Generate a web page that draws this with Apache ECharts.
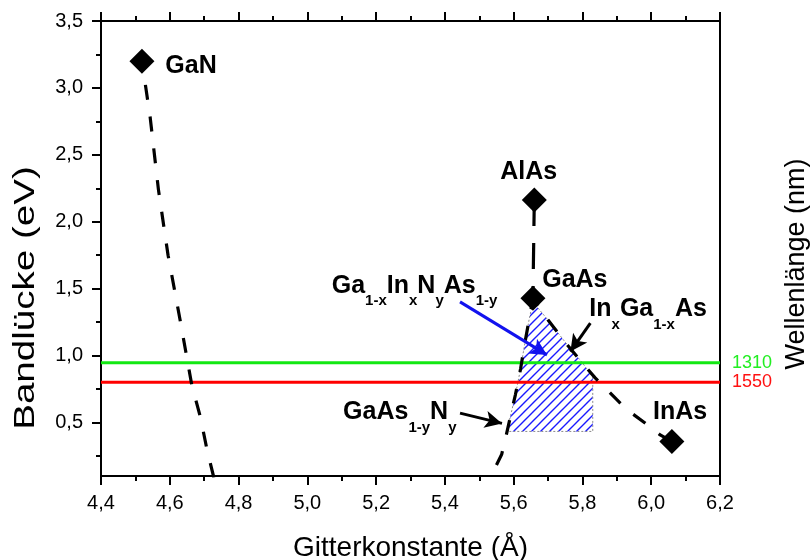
<!DOCTYPE html>
<html>
<head>
<meta charset="utf-8">
<script src="https://cdn.jsdelivr.net/npm/echarts@6/dist/echarts.min.js"></script>
<style>
  html, body { margin: 0; padding: 0; background: #fff; }
  #chart { width: 811px; height: 560px; }
</style>
</head>
<body>
<div id="chart"></div>
<script>
// Band gap versus lattice constant for GaN, AlAs, GaAs, InAs and their alloys

// binary compounds
const compounds   = ['GaN', 'AlAs', 'GaAs', 'InAs'];
const latticeA    = [4.519, 5.660, 5.656, 6.060];
const bandGapEv   = [3.200, 2.162, 1.428, 0.358];

// GaN -> GaAs bowing curve, nitrogen-rich branch (runs below the axis)
const ganBranchA  = [4.519, 4.543, 4.567, 4.595, 4.630, 4.664, 4.689, 4.708, 4.727, 4.745];
const ganBranchE  = [3.200, 2.780, 2.240, 1.750, 1.266, 0.780, 0.540, 0.300, 0.100, -0.060];

// GaAs(1-y)N(y) branch, arsenic-rich side
const gaasnA      = [5.656, 5.645, 5.633, 5.620, 5.605, 5.591, 5.578, 5.565, 5.543, 5.522];
const gaasnE      = [1.428, 1.270, 1.100, 0.900, 0.707, 0.550, 0.400, 0.260, 0.147, 0.000];

// AlAs - GaAs tie line
const alasGaasA   = [5.660, 5.656];
const alasGaasE   = [2.162, 1.428];

// In(x)Ga(1-x)As curve
const ingaasA     = [5.656, 5.700, 5.756, 5.800, 5.837, 5.900, 5.930, 5.980, 6.026, 6.060];
const ingaasE     = [1.428, 1.265, 1.080, 0.945, 0.833, 0.670, 0.594, 0.500, 0.407, 0.358];

// GaInNAs region (hatched)
const gainnasA    = [5.579, 5.591, 5.605, 5.620, 5.633, 5.645, 5.656, 5.700, 5.756, 5.800, 5.830, 5.830];
const gainnasE    = [0.433, 0.550, 0.707, 0.900, 1.100, 1.270, 1.400, 1.265, 1.080, 0.945, 0.840, 0.433];

// telecom wavelengths and their photon energies
const wavelengthNm = [1310, 1550];
const wavelengthEv = [0.946, 0.800];

// annotation arrows: GaInNAs, GaAsN, InGaAs
const arrowFromA = [5.444, 5.444, 5.823];
const arrowFromE = [1.401, 0.570, 1.242];
const arrowToA   = [5.697, 5.566, 5.765];
const arrowToE   = [1.005, 0.493, 1.030];

// text labels (rich text, subscripts in {s|...})
const labelTexts = [
  '{m|GaN}',
  '{m|AlAs}',
  '{m|GaAs}',
  '{m|In}{s|x}{m|Ga}{s|1-x}{m|As}',
  '{m|Ga}{s|1-x}{m|In}{s|x}{m|N}{s|y}{m|As}{s|1-y}',
  '{m|GaAs}{s|1-y}{m|N}{s|y}',
  '{m|InAs}'
];
const labelA = [4.587, 5.644, 5.683, 5.820, 5.071, 5.104, 6.005];
const labelE = [3.185, 2.386, 1.580, 1.363, 1.540, 0.594, 0.594];

const xTickMin = 4.4, xTickMax = 6.2, xTickStep = 0.2;
const yMin = 0.1, yMax = 3.5;
const yMajorTicks = [0.5, 1.0, 1.5, 2.0, 2.5, 3.0, 3.5];
const yMinorTicks = [0.25, 0.75, 1.25, 1.75, 2.25, 2.75, 3.25];

const FONT = "'Liberation Sans', Arial, Helvetica, sans-serif";
const comma = v => (Math.round(v * 10) / 10).toFixed(1).replace('.', ',');
const zip = (a, b) => a.map((v, i) => [v, b[i]]);

// diagonal hatch tile
function hatchTile() {
  const s = 9;
  const c = document.createElement('canvas');
  c.width = s; c.height = s;
  const g = c.getContext('2d');
  g.strokeStyle = '#1a1aff';
  g.lineWidth = 1.4;
  g.beginPath();
  g.moveTo(-1, s + 1); g.lineTo(s + 1, -1);
  g.moveTo(-1, 1); g.lineTo(1, -1);
  g.moveTo(s - 1, s + 1); g.lineTo(s + 1, s - 1);
  g.stroke();
  return c;
}
const hatch = { image: hatchTile(), repeat: 'repeat' };

const dashStyle = { color: '#000', width: 3.2, type: [15, 17], cap: 'butt' };
const axisBlack = { color: '#000', width: 2 };

const chart = echarts.init(document.getElementById('chart'), null, { renderer: 'canvas' });

const richStyles = (color) => ({
  m: { fontFamily: FONT, fontSize: 25, fontWeight: 'bold', color, lineHeight: 26, verticalAlign: 'top' },
  s: { fontFamily: FONT, fontSize: 15, fontWeight: 'bold', color, lineHeight: 16, padding: [20, 0, 0, 0], verticalAlign: 'top' }
});

const series = [
  // hatched GaInNAs area
  {
    type: 'custom',
    z: 1,
    silent: true,
    data: [0],
    renderItem: (params, api) => ({
      type: 'polygon',
      shape: { points: gainnasA.map((a, i) => api.coord([a, gainnasE[i]])) },
      style: { fill: hatch, stroke: '#8a8a8a', lineWidth: 1, lineDash: [2, 2] }
    })
  },
  // wavelength lines
  ...wavelengthNm.map((nm, i) => ({
    type: 'line',
    z: 2,
    silent: true,
    symbol: 'none',
    data: [[xTickMin, wavelengthEv[i]], [xTickMax, wavelengthEv[i]]],
    lineStyle: { color: i === 0 ? '#12e812' : '#ff0000', width: 3 },
    endLabel: {
      show: true,
      formatter: String(nm),
      color: i === 0 ? '#22ee22' : '#ff1010',
      fontFamily: FONT,
      fontSize: 18,
      distance: 12
    }
  })),
  // dashed curves
  { type: 'line', z: 3, symbol: 'none', silent: true, data: zip(ganBranchA, ganBranchE), lineStyle: Object.assign({}, dashStyle, { dashOffset: 8 }) },
  { type: 'line', z: 3, symbol: 'none', silent: true, data: zip(gaasnA, gaasnE), lineStyle: Object.assign({}, dashStyle, { dashOffset: 4 }) },
  { type: 'line', z: 3, symbol: 'none', silent: true, data: zip(alasGaasA, alasGaasE), lineStyle: Object.assign({}, dashStyle, { type: [26, 17], dashOffset: 0 }) },
  {
    type: 'line', z: 3, symbol: 'none', silent: true, data: zip(ingaasA, ingaasE),
    lineStyle: Object.assign({}, dashStyle, { dashOffset: 6 }),
    markLine: {
      silent: true,
      animation: false,
      symbol: ['none', 'arrow'],
      symbolSize: [13, 17],
      label: { show: false },
      lineStyle: { color: '#000', width: 3, type: 'solid' },
      data: arrowFromA.map((a, i) => {
        const col = i === 0 ? '#1212ee' : '#000';
        return [
          { coord: [a, arrowFromE[i]], lineStyle: { color: col, width: 3, type: 'solid' }, itemStyle: { color: col } },
          { coord: [arrowToA[i], arrowToE[i]], itemStyle: { color: col } }
        ];
      })
    }
  },
  // compound markers
  {
    type: 'scatter', z: 5, silent: true,
    symbol: 'diamond', symbolSize: 25,
    itemStyle: { color: '#000', opacity: 1 },
    data: zip(latticeA, bandGapEv)
  },
  // text labels
  {
    type: 'custom', z: 6, silent: true,
    data: labelTexts.map((t, i) => i),
    renderItem: (params, api) => {
      const i = params.dataIndex;
      const p = api.coord([labelA[i], labelE[i]]);
      const color = i === 4 ? '#1212ee' : '#000';
      return {
        type: 'text',
        x: p[0],
        y: p[1] - 10,
        style: {
          text: labelTexts[i],
          rich: richStyles(color),
          align: i === 1 ? 'center' : 'left',
          verticalAlign: 'top'
        }
      };
    }
  }
];

chart.setOption({
  animation: false,
  backgroundColor: '#fff',
  textStyle: { fontFamily: FONT },
  grid: { left: 101, right: 91, top: 21, bottom: 84, containLabel: false, outerBoundsMode: 'none' },
  xAxis: [
    {
      type: 'value', position: 'bottom',
      min: xTickMin, max: xTickMax, interval: xTickStep,
      axisLine: { show: true, onZero: false, lineStyle: axisBlack },
      axisTick: { show: true, inside: false, length: 9, lineStyle: axisBlack },
      minorTick: { show: true, splitNumber: 2, length: 5, lineStyle: axisBlack },
      splitLine: { show: false },
      axisLabel: { color: '#000', fontFamily: FONT, fontSize: 20, margin: 17, formatter: comma },
      name: 'Gitterkonstante (Å)',
      nameLocation: 'middle',
      nameGap: 58,
      nameTextStyle: { color: '#000', fontFamily: FONT, fontSize: 28 }
    },
    {
      type: 'value', position: 'top',
      min: xTickMin, max: xTickMax, interval: xTickStep,
      axisLine: { show: true, onZero: false, lineStyle: axisBlack },
      axisTick: { show: true, inside: false, length: 9, lineStyle: axisBlack },
      minorTick: { show: true, splitNumber: 2, length: 5, lineStyle: axisBlack },
      splitLine: { show: false },
      axisLabel: { show: false }
    }
  ],
  yAxis: [
    {
      type: 'value', position: 'left',
      min: yMin, max: yMax,
      axisLine: { show: true, onZero: false, lineStyle: axisBlack },
      axisTick: { show: true, inside: false, length: 9, lineStyle: axisBlack, customValues: yMajorTicks },
      splitLine: { show: false },
      axisLabel: { color: '#000', fontFamily: FONT, fontSize: 20, margin: 18, formatter: comma, customValues: yMajorTicks }
    },
    {
      type: 'value', position: 'right',
      min: yMin, max: yMax,
      axisLine: { show: true, onZero: false, lineStyle: axisBlack },
      axisTick: { show: false },
      splitLine: { show: false },
      axisLabel: { show: false }
    },
    {
      type: 'value', position: 'left', offset: 0,
      min: yMin, max: yMax,
      axisLine: { show: false },
      axisTick: { show: true, inside: false, length: 5, lineStyle: axisBlack, customValues: yMinorTicks },
      splitLine: { show: false },
      axisLabel: { show: false, customValues: yMinorTicks }
    }
  ],
  graphic: [
    {
      type: 'text', x: 26, y: 298, rotation: Math.PI / 2, scaleX: 1.33,
      style: { text: 'Bandlücke (eV)', fill: '#000', font: '29px ' + FONT, align: 'center', verticalAlign: 'middle' }
    },
    {
      type: 'text', x: 797, y: 264, rotation: Math.PI / 2,
      style: { text: 'Wellenlänge (nm)', fill: '#000', font: '27px ' + FONT, align: 'center', verticalAlign: 'middle' }
    }
  ],
  series
});
</script>
</body>
</html>
